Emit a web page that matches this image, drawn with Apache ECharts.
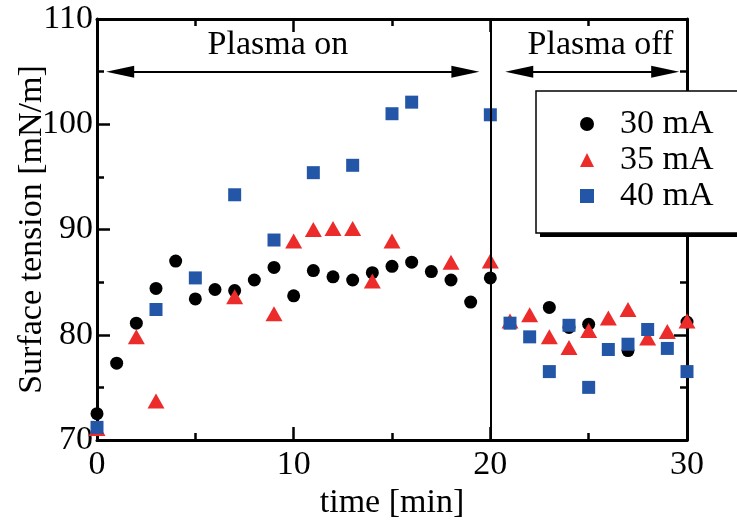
<!DOCTYPE html>
<html>
<head>
<meta charset="utf-8">
<script src="https://cdn.jsdelivr.net/npm/echarts@6/dist/echarts.min.js"></script>
<style>
html,body{margin:0;padding:0;background:#fff;}
#chart{width:737px;height:527px;}
</style>
</head>
<body>
<div id="chart"></div>
<script>
// ---- data ----
var t30 = [0,1,2,3,4,5,6,7,8,9,10,11,12,13,14,15,16,17,18,19,20,23,24,25,27,30];
var v30 = [72.5,77.3,81.1,84.4,87.0,83.4,84.3,84.2,85.2,86.4,83.7,86.1,85.5,85.2,85.9,86.5,86.9,86.0,85.2,83.1,85.4,82.6,80.7,81.0,78.5,81.2];

var t35 = [0,2,3,7,9,10,11,12,13,14,15,18,20,21,22,23,24,25,26,27,28,29,30];
var v35 = [71.1,79.8,73.7,83.6,82.0,88.9,90.0,90.1,90.1,85.1,88.9,86.9,87.0,81.3,81.9,79.8,78.8,80.4,81.6,82.4,79.7,80.3,81.3];

var t40 = [0,3,5,7,9,11,13,15,16,20,21,22,23,24,25,26,27,28,29,30];
var v40 = [71.2,82.4,85.4,93.3,89.0,95.4,96.1,101.0,102.1,100.9,81.1,79.8,76.5,80.9,75.0,78.6,79.1,80.5,78.7,76.5];

var seriesNames = ['30 mA','35 mA','40 mA'];
var xName = 'time [min]';
var yName = 'Surface tension [mN/m]';
var phaseLabels = ['Plasma on','Plasma off'];
var phaseLabelPos = [[9.2,107.5],[25.6,107.5]];
var phaseArrows = [[1.18,18.73],[21.47,28.89]];
var arrowY = 105;
var switchTime = 20;

function pairs(t,v){ return t.map(function(x,i){ return [x, v[i]]; }); }

var FONT = "'Liberation Serif', 'Times New Roman', Times, serif";
var RED = '#ec2b2b', BLUE = '#2456a8';

var chart = echarts.init(document.getElementById('chart'), null, {renderer:'canvas'});

function mainAxisX(pos, showLabel){
  return {
    type:'value', position:pos, min:0, max:30, interval:10,
    name: showLabel ? xName : '', nameLocation:'middle', nameGap:46, nameMoveOverlap:false,
    nameTextStyle:{fontFamily:FONT, fontSize:34, color:'#000'},
    axisLine:{show:true, onZero:false, lineStyle:{color:'#000', width:3}},
    axisTick:{show:true, inside:true, length:13, lineStyle:{color:'#000', width:2.5}},
    minorTick:{show:true, splitNumber:2, length:7, lineStyle:{color:'#000', width:2.5}},
    axisLabel:{show:showLabel, fontFamily:FONT, fontSize:34, color:'#000', margin:8},
    splitLine:{show:false}, minorSplitLine:{show:false}
  };
}
function mainAxisY(pos, showLabel){
  return {
    type:'value', position:pos, min:70, max:110, interval:10,
    name: showLabel ? yName : '', nameLocation:'middle', nameGap:48, nameMoveOverlap:false,
    nameTextStyle:{fontFamily:FONT, fontSize:34, color:'#000'},
    axisLine:{show:true, onZero:false, lineStyle:{color:'#000', width:3}},
    axisTick:{show:true, inside:true, length:13, lineStyle:{color:'#000', width:2.5}},
    minorTick:{show:true, splitNumber:2, length:7, lineStyle:{color:'#000', width:2.5}},
    axisLabel:{show:showLabel, fontFamily:FONT, fontSize:34, color:'#000', margin:4},
    splitLine:{show:false}, minorSplitLine:{show:false}
  };
}

var arrowPath = 'path://M0,0 L6,28 L-6,28 Z';

var option = {
  animation:false,
  backgroundColor:'#fff',
  grid:{left:97, right:50, top:19, bottom:87, containLabel:false, outerBoundsMode:'none'},
  xAxis:[mainAxisX('bottom', true), mainAxisX('top', false)],
  yAxis:[mainAxisY('left', true), mainAxisY('right', false)],
  graphic:[{
    type:'rect', left:540, top:95, z:-1, silent:true,
    shape:{width:260, height:142}, style:{fill:'#000'}
  }],
  legend:{
    left:536, top:91, orient:'vertical', z:5,
    data:[{name:seriesNames[0], icon:'circle'},{name:seriesNames[1], icon:'triangle'},{name:seriesNames[2], icon:'rect'}],
    itemWidth:14, itemHeight:14, itemGap:0,
    padding:[15,80,19,44],
    backgroundColor:'#fff', borderColor:'#000', borderWidth:1.5,
    textStyle:{fontFamily:FONT, fontSize:34, color:'#000', lineHeight:36, padding:[0,0,0,21]}
  },
  series:[
    {
      name:seriesNames[0], type:'scatter', symbol:'circle', symbolSize:13,
      itemStyle:{color:'#000', opacity:1}, data:pairs(t30,v30), z:2,
      markLine:{
        silent:true, symbol:['none','none'],
        lineStyle:{color:'#000', width:2, type:'solid'},
        label:{show:false},
        data:[{xAxis:switchTime}]
      }
    },
    {
      name:seriesNames[1], type:'scatter', symbol:'triangle', symbolSize:[17,15],
      itemStyle:{color:RED, opacity:1}, data:pairs(t35,v35), z:3,
      markLine:{
        silent:true, symbol:[arrowPath, arrowPath], symbolSize:[12,28],
        lineStyle:{color:'#000', width:2, type:'solid'},
        itemStyle:{color:'#000'},
        label:{show:false},
        data:[
          [{coord:[phaseArrows[0][0], arrowY]},{coord:[phaseArrows[0][1], arrowY]}],
          [{coord:[phaseArrows[1][0], arrowY]},{coord:[phaseArrows[1][1], arrowY]}]
        ]
      }
    },
    {
      name:seriesNames[2], type:'scatter', symbol:'rect', symbolSize:13,
      itemStyle:{color:BLUE, opacity:1}, data:pairs(t40,v40), z:4,
      markPoint:{
        silent:true, symbol:'circle', symbolSize:0,
        label:{show:true, position:'inside', fontFamily:FONT, fontSize:34, color:'#000', formatter:'{b}'},
        data:[
          {name:phaseLabels[0], coord:phaseLabelPos[0]},
          {name:phaseLabels[1], coord:phaseLabelPos[1]}
        ]
      }
    }
  ]
};
chart.setOption(option);
</script>
</body>
</html>
